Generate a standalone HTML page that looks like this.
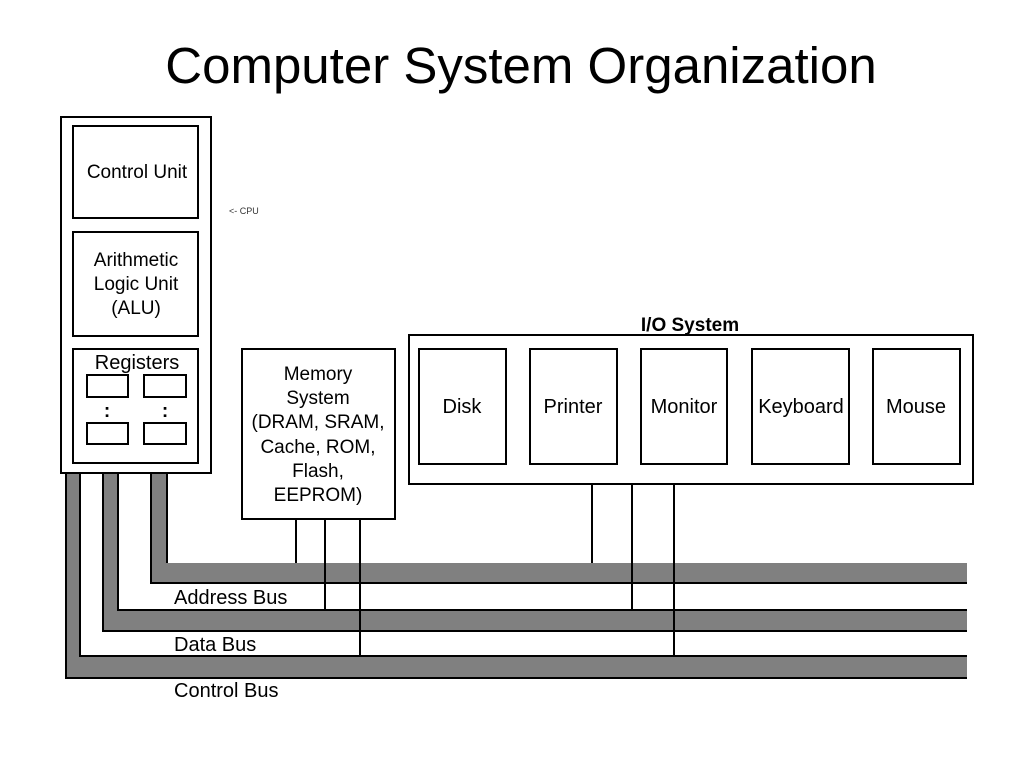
<!DOCTYPE html>
<html><head><meta charset="utf-8"><style>
body{margin:0;background:#fff;}
svg{display:block;font-family:"Liberation Sans",sans-serif;}
</style></head><body>
<svg width="1024" height="768" viewBox="0 0 1024 768" xmlns="http://www.w3.org/2000/svg">
<rect width="1024" height="768" fill="#fff"/>
<text x="521" y="83" font-size="51" text-anchor="middle" fill="#000">Computer System Organization</text>

<g fill="#808080">
<rect x="66" y="473" width="14" height="205"/>
<rect x="66" y="656" width="901" height="22"/>
<rect x="103" y="473" width="15" height="158"/>
<rect x="103" y="610" width="864" height="21"/>
<rect x="151" y="473" width="16" height="110"/>
<rect x="151" y="563" width="816" height="20"/>
</g>
<g stroke="#000" stroke-width="2" fill="none">
<polyline points="66,473 66,678 967,678"/>
<polyline points="80,473 80,656 967,656"/>
<polyline points="103,473 103,631 967,631"/>
<polyline points="118,473 118,610 967,610"/>
<polyline points="151,473 151,583 967,583"/>
<line x1="167" y1="473" x2="167" y2="563"/>
<line x1="296" y1="519" x2="296" y2="563"/>
<line x1="325" y1="519" x2="325" y2="610"/>
<line x1="360" y1="519" x2="360" y2="656"/>
<line x1="592" y1="484" x2="592" y2="563"/>
<line x1="632" y1="484" x2="632" y2="610"/>
<line x1="674" y1="484" x2="674" y2="656"/>
</g>

<g stroke="#000" stroke-width="2" fill="#fff">
<rect x="61" y="117" width="150" height="356"/>
<rect x="73" y="126" width="125" height="92"/>
<rect x="73" y="232" width="125" height="104"/>
<rect x="73" y="349" width="125" height="114"/>
<rect x="87" y="375" width="41" height="22"/>
<rect x="144" y="375" width="42" height="22"/>
<rect x="87" y="423" width="41" height="21"/>
<rect x="144" y="423" width="42" height="21"/>
<rect x="242" y="349" width="153" height="170"/>
<rect x="409" y="335" width="564" height="149"/>
<rect x="419" y="349" width="87" height="115"/>
<rect x="530" y="349" width="87" height="115"/>
<rect x="641" y="349" width="86" height="115"/>
<rect x="752" y="349" width="97" height="115"/>
<rect x="873" y="349" width="87" height="115"/>
</g>

<g font-size="19" fill="#000" text-anchor="middle">
<text x="137" y="178">Control Unit</text>
<text x="136" y="266">Arithmetic</text>
<text x="136" y="290">Logic Unit</text>
<text x="136" y="314">(ALU)</text>
<text x="137" y="369" font-size="20">Registers</text>
<text x="107" y="417" font-weight="bold">:</text>
<text x="165" y="417" font-weight="bold">:</text>
<text x="318" y="380">Memory</text>
<text x="318" y="404">System</text>
<text x="318" y="428">(DRAM, SRAM,</text>
<text x="318" y="453">Cache, ROM,</text>
<text x="318" y="477">Flash,</text>
<text x="318" y="501">EEPROM)</text>
<text x="462" y="413" font-size="20">Disk</text>
<text x="573" y="413" font-size="20">Printer</text>
<text x="684" y="413" font-size="20">Monitor</text>
<text x="801" y="413" font-size="20">Keyboard</text>
<text x="916" y="413" font-size="20">Mouse</text>
<text x="690" y="331" font-weight="bold">I/O System</text>
</g>
<g font-size="20" fill="#000">
<text x="174" y="604">Address Bus</text>
<text x="174" y="651">Data Bus</text>
<text x="174" y="697">Control Bus</text>
</g>
<text x="229" y="214" font-size="9" fill="#333">&lt;- CPU</text>
</svg>
</body></html>
